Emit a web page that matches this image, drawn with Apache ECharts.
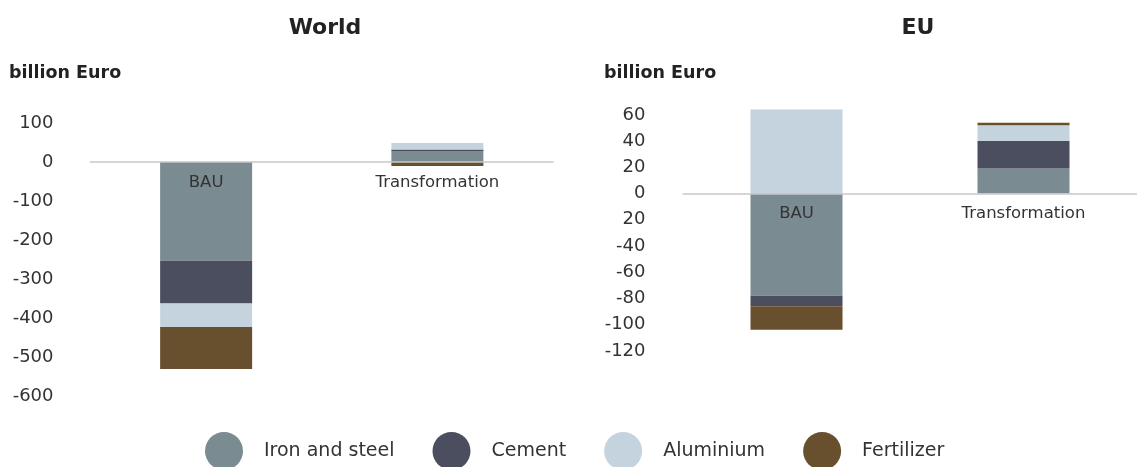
<!DOCTYPE html>
<html>
<head>
<meta charset="utf-8">
<script src="https://cdn.jsdelivr.net/npm/echarts@6/dist/echarts.min.js"></script>
<style>
html,body{margin:0;padding:0;background:#fff;}
#c{width:1137px;height:467px;}
</style>
</head>
<body>
<div id="c"></div>
<script>
const categories = ['BAU', 'Transformation'];
const seriesNames = ['Iron and steel', 'Cement', 'Aluminium', 'Fertilizer'];
const colors = ['#7a8b92', '#4a4e5e', '#c5d3de', '#684f2e'];
// World values (billion Euro): [BAU, Transformation]
const worldIron = [-253, 27];
const worldCement = [-110, 5];
const worldAluminium = [-60, 17];
const worldFertilizer = [-108, -10];
// EU values (billion Euro): [BAU, Transformation]
const euIron = [-78, 19];
const euCement = [-8, 21];
const euAluminium = [64, 12];
const euFertilizer = [-18, 2];
// tick labels as printed in the source
const worldTickValues = [100, 0, -100, -200, -300, -400, -500, -600];
const worldTickLabels = ['100', '0', '-100', '-200', '-300', '-400', '-500', '-600'];
const euTickValues = [60, 40, 20, 0, -20, -40, -60, -80, -100, -120];
const euTickLabels = ['60', '40', '20', '0', '20', '-40', '-60', '-80', '-100', '-120'];

const FONT = '"DejaVu Sans", "Noto Sans", sans-serif';
const worldData = [worldIron, worldCement, worldAluminium, worldFertilizer];
const euData = [euIron, euCement, euAluminium, euFertilizer];

function fmt(values, labels) {
  return function (v) {
    for (let i = 0; i < values.length; i++) {
      if (Math.abs(values[i] - v) < 1e-6) return labels[i];
    }
    return '';
  };
}

const series = [];
seriesNames.forEach((n, i) => {
  series.push({ name: n, type: 'bar', stack: 'w', xAxisIndex: 0, yAxisIndex: 0,
    data: worldData[i], barWidth: 92, itemStyle: { color: colors[i] } });
});
seriesNames.forEach((n, i) => {
  series.push({ name: n, type: 'bar', stack: 'e', xAxisIndex: 1, yAxisIndex: 1,
    data: euData[i], barWidth: 92, itemStyle: { color: colors[i] } });
});

const PX_E = 1.3111;         // px per unit, EU
const W_ZERO = 162, E_ZERO = 193.5;
const W_TOP = W_ZERO - 100 * 0.39, W_H = 273;
const E_TOP = E_ZERO - 66 * PX_E, E_H = (66 + 120) * PX_E;

function xAxisFor(grid, offset) {
  return {
    gridIndex: grid, type: 'category', data: categories, z: 10, position: 'bottom', offset: offset,
    axisLine: { onZero: false, lineStyle: { color: '#c8c8c8', width: 1.5 } },
    axisTick: { show: false },
    axisLabel: { color: '#333', fontSize: 16.5, fontFamily: FONT, margin: 12 }
  };
}
const yAxisCommon = {
  type: 'value', splitLine: { show: false }, axisLine: { show: false }, axisTick: { show: false }
};

const chart = echarts.init(document.getElementById('c'), null, { renderer: 'canvas' });
chart.setOption({
  animation: false,
  backgroundColor: '#fff',
  title: [
    { text: 'World', left: 320, top: 12, textAlign: 'center',
      textStyle: { fontSize: 22, fontWeight: 'bold', color: '#222', fontFamily: FONT } },
    { text: 'EU', left: 913, top: 12, textAlign: 'center',
      textStyle: { fontSize: 22, fontWeight: 'bold', color: '#222', fontFamily: FONT } },
    { text: 'billion Euro', left: 9, top: 64, padding: 0,
      textStyle: { fontSize: 17.5, fontWeight: 'bold', color: '#222', fontFamily: FONT } },
    { text: 'billion Euro', left: 604, top: 64, padding: 0,
      textStyle: { fontSize: 17.5, fontWeight: 'bold', color: '#222', fontFamily: FONT } }
  ],
  legend: {
    data: seriesNames, left: 205, top: 432, icon: 'circle', padding: 0,
    itemWidth: 38, itemHeight: 38, itemGap: 38,
    textStyle: { fontSize: 19, color: '#333', fontFamily: FONT, padding: [0, 0, 0, 16] }
  },
  grid: [
    { left: 90.5, width: 462.5, top: W_TOP, height: W_H, containLabel: false },
    { left: 683, right: 0, top: E_TOP, height: E_H, containLabel: false }
  ],
  xAxis: [
    xAxisFor(0, -(W_TOP + W_H - W_ZERO)),
    xAxisFor(1, -(E_TOP + E_H - E_ZERO))
  ],
  yAxis: [
    Object.assign({ gridIndex: 0, min: -600, max: 100, interval: 100,
      axisLabel: { color: '#333', fontSize: 18, fontFamily: FONT, margin: 37,
        formatter: fmt(worldTickValues, worldTickLabels) } }, yAxisCommon),
    Object.assign({ gridIndex: 1, min: -120, max: 66, interval: 20,
      axisLabel: { color: '#333', fontSize: 18, fontFamily: FONT, margin: 37.5, showMaxLabel: false,
        formatter: fmt(euTickValues, euTickLabels) } }, yAxisCommon)
  ],
  series: series
});
</script>
</body>
</html>
